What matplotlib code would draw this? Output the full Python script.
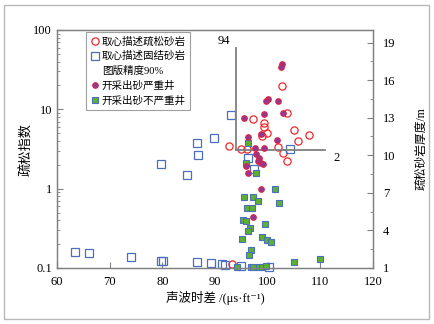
import matplotlib
matplotlib.use("Agg")
import matplotlib.pyplot as plt
from matplotlib.lines import Line2D
from matplotlib.patches import Rectangle

plt.rcParams['font.family'] = ['Liberation Serif', 'Noto Sans CJK SC', 'DejaVu Sans']

# 取心描述疏松砂岩 (left axis)
loose_x = [102.8, 103.6, 97.2, 99.3, 99.3, 99.9, 99.0, 105.0, 107.9, 105.7,
           101.9, 102.9, 103.6, 92.6, 94.9, 96.0, 93.3]
loose_y = [19.6, 9.1, 7.6, 6.7, 6.05, 5.0, 4.6, 5.5, 4.7, 4.03,
           3.39, 2.84, 2.26, 3.45, 3.2, 3.13, 0.111]

# 取心描述固结砂岩 (left axis)
tight_x = [63.5, 66.1, 74.1, 79.7, 80.2, 86.6, 89.2, 91.4, 91.9, 95.0,
           100.3, 79.7, 84.7, 86.6, 86.8, 89.8, 93.1, 104.2, 96.3, 97.4]
tight_y = [0.158, 0.153, 0.136, 0.123, 0.123, 0.118, 0.115, 0.112, 0.110, 0.106,
           0.102, 2.07, 1.50, 3.77, 2.66, 4.4, 8.43, 3.14, 2.42, 1.79]

# 开采出砂严重井 (right axis, m)
severe_x = [102.8, 102.6, 100.1, 99.7, 102.0, 103.0, 99.3, 95.5, 98.8, 101.7,
            96.2, 97.6, 99.3, 97.7, 98.4, 98.2, 98.7, 99.2, 96.3, 98.65, 97.3, 95.9]
severe_h = [17.26, 17.07, 14.5, 14.35, 14.35, 13.4, 13.3, 13.0, 11.67, 11.2,
            11.43, 10.55, 10.6, 10.07, 9.8, 9.56, 9.36, 9.3, 8.6, 7.3, 5.07, 9.14]

# 开采出砂不严重井 (right axis, m)
mild_x = [101.3, 95.5, 97.2, 98.1, 102.1, 96.1, 97.0, 95.3, 95.8, 99.4,
          96.6, 96.3, 99.0, 99.8, 100.7, 95.2, 96.9, 96.4, 105.0, 109.85,
          94.2, 96.8, 97.3, 98.4, 99.0, 99.7, 96.3, 95.8, 97.8]
mild_h = [7.3, 6.64, 6.64, 6.35, 6.16, 5.81, 5.81, 4.83, 4.75, 4.49,
          4.17, 3.98, 3.47, 3.21, 3.05, 3.34, 2.44, 2.01, 1.45, 1.72,
          1.05, 1.05, 1.05, 1.05, 1.05, 1.16, 10.95, 9.4, 8.6]

# 图版界限
cut_ac = 94
cut_index = 3.08

fig = plt.figure(figsize=(4.34, 3.24), dpi=100)
fig.patches.append(Rectangle((4 / 434, 5 / 324), 425 / 434, 314 / 324, transform=fig.transFigure,
                             fill=False, edgecolor='#b8b8b8', linewidth=1.0))
ax = fig.add_axes([57 / 434, 56 / 324, 316 / 434, 238 / 324])
ax2 = ax.twinx()

red = '#f0282d'
blue = '#4a6fbf'
ax.plot(loose_x, loose_y, 'o', ms=5.2, mfc='none', mec=red, mew=0.9, clip_on=False)
ax.plot(tight_x, tight_y, 's', ms=5.2, mfc='none', mec=blue, mew=0.9, clip_on=False)
ax2.plot(mild_x, mild_h, 's', ms=5.0, mfc='#5db030', mec=blue, mew=0.8, clip_on=False)
ax2.plot(severe_x, severe_h, 'o', ms=4.0, mfc='#8b3a9a', mec='#e0203e', mew=0.8, clip_on=False)

ax.plot([cut_ac, cut_ac], [59.4, cut_index], color='#7f7f7f', lw=1.3)
ax.plot([cut_ac, 110.9], [cut_index, cut_index], color='#7f7f7f', lw=1.3)
ax.text(91.6, 73.5, '94', fontsize=9, ha='center', va='center')
ax.text(113.1, 2.44, '2', fontsize=9, ha='center', va='center')

ax.set_xlim(60, 120)
ax.set_yscale('log')
ax.set_ylim(0.1, 100)
ax.set_xticks(range(60, 121, 10))
ax.set_yticks([0.1, 1, 10, 100])
ax.set_yticklabels(['0.1', '1', '10', '100'])
ax2.set_ylim(1, 20)
ax2.set_yticks([1, 4, 7, 10, 13, 16, 19])
ax2.set_yticks([2.5, 5.5, 8.5, 11.5, 14.5, 17.5], minor=True)

for a in (ax, ax2):
    a.tick_params(direction='in', labelsize=9, length=4, width=0.8, color='#808080')
    a.tick_params(which='minor', direction='in', length=2.5, width=0.6, color='#808080')
    for s in a.spines.values():
        s.set_color('#808080')
        s.set_linewidth(0.9)
ax.tick_params(axis='x', which='minor', bottom=False)
ax.tick_params(axis='x', pad=6)
ax2.tick_params(axis='y', pad=7)

ax.set_xlabel('声波时差 /(μs·ft⁻¹)', fontsize=9, labelpad=2)
ax.set_ylabel('疏松指数', fontsize=9.5, labelpad=0)
ax2.set_ylabel('疏松砂岩厚度/m', fontsize=8.5, labelpad=15)

handles = [
    Line2D([], [], ls='none', marker='o', ms=5.2, mfc='none', mec=red, mew=0.9),
    Line2D([], [], ls='none', marker='s', ms=5.2, mfc='none', mec=blue, mew=0.9),
    Line2D([], [], ls='none'),
    Line2D([], [], ls='none', marker='o', ms=4.0, mfc='#8b3a9a', mec='#e0203e', mew=0.8),
    Line2D([], [], ls='none', marker='s', ms=5.0, mfc='#5db030', mec=blue, mew=0.8),
]
labels = ['取心描述疏松砂岩', '取心描述固结砂岩', '图版精度90%', '开采出砂严重井', '开采出砂不严重井']
leg = ax.legend(handles, labels, loc='upper left', bbox_to_anchor=(0.092, 0.99),
                borderaxespad=0, fontsize=7.6, handlelength=0.8, handletextpad=0.3,
                labelspacing=0.45, borderpad=0.4, fancybox=False, framealpha=1)
leg.get_frame().set_edgecolor('#a0a0a0')
leg.get_frame().set_linewidth(0.8)

fig.savefig('out.png', dpi=100)
